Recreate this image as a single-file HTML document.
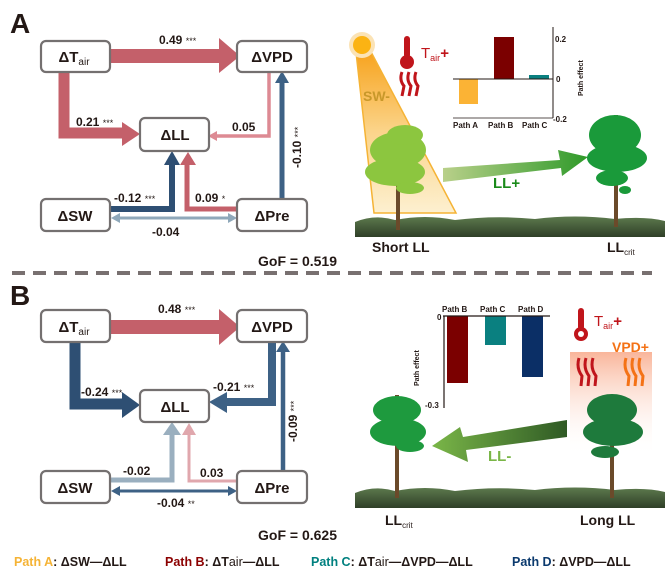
<!DOCTYPE html>
<html><head><meta charset="utf-8"><style>
body{margin:0;background:#fff}
svg{display:block;font-family:"Liberation Sans",Arial,sans-serif;font-weight:bold}
</style></head><body>
<svg width="668" height="584" viewBox="0 0 668 584" xmlns="http://www.w3.org/2000/svg">
<defs>
<linearGradient id="beam" x1="0" y1="0" x2="0" y2="1"><stop offset="0" stop-color="#f7a21b"/><stop offset="0.5" stop-color="#fbd48a"/><stop offset="1" stop-color="#fdf0d0"/></linearGradient>
<linearGradient id="ga" x1="0" y1="0" x2="1" y2="0"><stop offset="0" stop-color="#b9d08a"/><stop offset="1" stop-color="#2f9a2a"/></linearGradient>
<linearGradient id="gb" x1="1" y1="0" x2="0" y2="0"><stop offset="0" stop-color="#2f5a25"/><stop offset="1" stop-color="#7ab648"/></linearGradient>
<linearGradient id="pk" x1="0" y1="0" x2="0" y2="1"><stop offset="0" stop-color="#f9b59a"/><stop offset="1" stop-color="#fff" stop-opacity="0"/></linearGradient>
<linearGradient id="gr" x1="0" y1="0" x2="0" y2="1"><stop offset="0" stop-color="#5d7a4e"/><stop offset="1" stop-color="#2f3f27"/></linearGradient>
</defs>

<!-- ===== Panel A ===== -->
<text x="10" y="33" font-size="28" fill="#231815">A</text>
<!-- arrows A -->
<rect x="110" y="49" width="112" height="14" fill="#c4606a"/><polygon points="219,38 240,56 219,73" fill="#c4606a"/>
<path d="M64 72 V133 H126" stroke="#c4606a" stroke-width="11" fill="none"/><polygon points="122,122 140,134 122,146" fill="#c4606a"/>
<path d="M269 72 V136 H216" stroke="#dd8a93" stroke-width="3.5" fill="none"/><polygon points="217,131 208,136 217,141" fill="#dd8a93"/>
<path d="M282 199 V80" stroke="#3d6185" stroke-width="5" fill="none"/><polygon points="275,83 282,71 289,83" fill="#3d6185"/>
<path d="M110 209 H172 V163" stroke="#2e4f73" stroke-width="6" fill="none"/><polygon points="164,165 172,151 180,165" fill="#2e4f73"/>
<path d="M237 209 H187 V163" stroke="#c4606a" stroke-width="5" fill="none"/><polygon points="180,165 188,152 196,165" fill="#c4606a"/>
<line x1="118" y1="218" x2="229" y2="218" stroke="#8fa8ba" stroke-width="3"/><polygon points="120,213 111,218 120,223" fill="#8fa8ba"/><polygon points="228,213 237,218 228,223" fill="#8fa8ba"/>
<!-- boxes A -->
<g fill="#fff" stroke="#747070" stroke-width="2.2">
<rect x="41" y="41" width="69" height="31" rx="5"/><rect x="237" y="41" width="70" height="31" rx="5"/>
<rect x="140" y="118" width="69" height="33" rx="5"/><rect x="41" y="199" width="69" height="32" rx="5"/><rect x="237" y="199" width="70" height="32" rx="5"/></g>
<g font-size="15" fill="#231815" text-anchor="middle">
<text x="74" y="62">ΔT<tspan font-size="10" font-weight="normal" dy="3">air</tspan></text><text x="272" y="62">ΔVPD</text>
<text x="175" y="140">ΔLL</text><text x="75" y="221">ΔSW</text><text x="272" y="221">ΔPre</text></g>
<g font-size="12" fill="#231815">
<text x="159" y="44">0.49 <tspan font-size="9" font-weight="normal">***</tspan></text>
<text x="76" y="126">0.21 <tspan font-size="9" font-weight="normal">***</tspan></text>
<text x="232" y="131">0.05</text>
<text x="114" y="202">-0.12 <tspan font-size="9" font-weight="normal">***</tspan></text>
<text x="195" y="202">0.09 <tspan font-size="9" font-weight="normal">*</tspan></text>
<text x="152" y="236">-0.04</text>
<text transform="translate(301,168) rotate(-90)">-0.10 <tspan font-size="9" font-weight="normal">***</tspan></text>
</g>
<text x="258" y="266" font-size="14" fill="#231815">GoF =  0.519</text>
<line x1="12" y1="273" x2="652" y2="273" stroke="#787070" stroke-width="4" stroke-dasharray="13,8"/>

<!-- illustration A -->
<polygon points="356,52 370,50 456,213 374,213" fill="url(#beam)" stroke="#f5b335" stroke-width="1.5"/>
<circle cx="362" cy="45" r="13" fill="#fbe3b5"/><circle cx="362" cy="45" r="9" fill="#fbb313"/>
<text x="363" y="101" font-size="14" fill="#c8982a">SW-</text>
<g fill="#c0151b"><rect x="404" y="36" width="6" height="22" rx="3"/><circle cx="407" cy="62" r="7"/>
<path d="M402 72 q-3 8 2 14 l-2 10 M409 72 q-3 8 2 14 l-2 10 M416 72 q-3 8 2 14 l-2 10" stroke="#c0151b" stroke-width="3" fill="none"/></g>
<text x="421" y="58" font-size="15" fill="#c0151b" font-weight="normal">T<tspan font-size="9" dy="3">air</tspan><tspan dy="-3" font-weight="bold">+</tspan></text>
<!-- chart A -->
<rect x="459" y="79" width="19" height="25" fill="#fbb335"/><rect x="494" y="37" width="20" height="42" fill="#7b0000"/><rect x="529" y="75" width="20" height="4" fill="#0a8080"/>
<line x1="453" y1="79" x2="553" y2="79" stroke="#231815" stroke-width="1"/><line x1="553" y1="27" x2="553" y2="118" stroke="#231815" stroke-width="1"/>
<line x1="453" y1="118" x2="553" y2="118" stroke="#231815" stroke-width="0.8"/>
<g font-size="8" fill="#231815"><text x="555" y="42">0.2</text><text x="556" y="82">0</text><text x="553" y="122">-0.2</text>
<text x="453" y="128">Path A</text><text x="488" y="128">Path B</text><text x="522" y="128">Path C</text>
<text transform="translate(583,96) rotate(-90)" font-size="7">Path effect</text></g>
<polygon points="443,168 560,160 558,150 588,157 562,176 561,168 443,182" fill="url(#ga)"/>
<text x="493" y="188" font-size="15" fill="#1a8a1a">LL+</text>
<!-- ground A -->
<path d="M355 222 q20 -8 40 -2 q30 -6 60 0 q40 -5 80 -1 q40 -5 80 0 q30 -3 50 2 v16 H355z" fill="url(#gr)"/>
<!-- trees A -->
<rect x="396" y="130" width="4" height="100" fill="#6b4a2a"/>
<g fill="#8cc63f"><ellipse cx="398" cy="150" rx="28" ry="18"/><ellipse cx="395" cy="172" rx="30" ry="14"/><ellipse cx="405" cy="135" rx="18" ry="10"/><ellipse cx="410" cy="188" rx="14" ry="6"/></g>
<rect x="614" y="115" width="4" height="112" fill="#6b4a2a"/>
<g fill="#1a9a3a"><ellipse cx="615" cy="135" rx="26" ry="20"/><ellipse cx="617" cy="158" rx="30" ry="14"/><ellipse cx="612" cy="178" rx="16" ry="8"/><ellipse cx="625" cy="190" rx="6" ry="4"/></g>
<text x="372" y="252" font-size="14" fill="#231815">Short LL</text>
<text x="607" y="252" font-size="14" fill="#231815">LL<tspan font-size="8" font-weight="normal" dy="3">crit</tspan></text>

<!-- ===== Panel B ===== -->
<text x="10" y="305" font-size="28" fill="#231815">B</text>
<rect x="110" y="320" width="112" height="14" fill="#c4606a"/><polygon points="219,309 240,327 219,345" fill="#c4606a"/>
<path d="M75 342 V404 H126" stroke="#2e4f73" stroke-width="11" fill="none"/><polygon points="122,392 140,405 122,418" fill="#2e4f73"/>
<path d="M272 342 V402 H226" stroke="#3d6185" stroke-width="8" fill="none"/><polygon points="227,392 209,402 227,413" fill="#3d6185"/>
<path d="M283 471 V350" stroke="#3d6185" stroke-width="4.5" fill="none"/><polygon points="276,352 283,341 290,352" fill="#3d6185"/>
<path d="M110 480 H172 V433" stroke="#9aafbf" stroke-width="5" fill="none"/><polygon points="163,435 172,422 181,435" fill="#9aafbf"/>
<path d="M237 481 H189 V433" stroke="#e0a7ad" stroke-width="3" fill="none"/><polygon points="182,435 189,423 196,435" fill="#e0a7ad"/>
<line x1="118" y1="491" x2="229" y2="491" stroke="#3d6185" stroke-width="3"/><polygon points="120,486 111,491 120,496" fill="#3d6185"/><polygon points="228,486 237,491 228,496" fill="#3d6185"/>
<g fill="#fff" stroke="#747070" stroke-width="2.2">
<rect x="41" y="310" width="69" height="32" rx="5"/><rect x="237" y="310" width="70" height="32" rx="5"/>
<rect x="140" y="390" width="69" height="32" rx="5"/><rect x="41" y="471" width="69" height="32" rx="5"/><rect x="237" y="471" width="70" height="32" rx="5"/></g>
<g font-size="15" fill="#231815" text-anchor="middle">
<text x="74" y="332">ΔT<tspan font-size="10" font-weight="normal" dy="3">air</tspan></text><text x="272" y="332">ΔVPD</text>
<text x="175" y="412">ΔLL</text><text x="75" y="493">ΔSW</text><text x="272" y="493">ΔPre</text></g>
<g font-size="12" fill="#231815">
<text x="158" y="313">0.48 <tspan font-size="9" font-weight="normal">***</tspan></text>
<text x="81" y="396">-0.24 <tspan font-size="9" font-weight="normal">***</tspan></text>
<text x="213" y="391">-0.21 <tspan font-size="9" font-weight="normal">***</tspan></text>
<text x="123" y="475">-0.02</text>
<text x="200" y="477">0.03</text>
<text x="157" y="507">-0.04 <tspan font-size="9" font-weight="normal">**</tspan></text>
<text transform="translate(297,442) rotate(-90)">-0.09 <tspan font-size="9" font-weight="normal">***</tspan></text>
</g>
<text x="258" y="540" font-size="14" fill="#231815">GoF =  0.625</text>

<!-- illustration B -->
<rect x="570" y="352" width="82" height="105" fill="url(#pk)"/>
<g fill="#c0151b"><rect x="578" y="308" width="6" height="22" rx="3"/><circle cx="581" cy="334" r="7"/></g>
<circle cx="581" cy="334" r="3" fill="#fff"/>
<text x="594" y="326" font-size="15" fill="#c0151b" font-weight="normal">T<tspan font-size="9" dy="3">air</tspan><tspan dy="-3" font-weight="bold">+</tspan></text>
<text x="612" y="352" font-size="14" fill="#f47216">VPD+</text>
<g fill="none" stroke-width="3">
<path d="M579 358 q-3 10 3 18 l-1 10 M586 358 q-3 10 3 18 l-1 10 M593 358 q-3 10 3 18 l-1 10" stroke="#c0151b"/>
<path d="M626 358 q-3 10 3 18 l-1 10 M633 358 q-3 10 3 18 l-1 10 M640 358 q-3 10 3 18 l-1 10" stroke="#f47216"/></g>
<!-- chart B -->
<rect x="447" y="316" width="21" height="67" fill="#7b0000"/><rect x="485" y="316" width="21" height="29" fill="#0a8080"/><rect x="522" y="316" width="21" height="61" fill="#0b2f66"/>
<line x1="443" y1="316" x2="550" y2="316" stroke="#231815" stroke-width="1.2"/><line x1="444" y1="316" x2="444" y2="408" stroke="#231815" stroke-width="1.2"/>
<g font-size="8" fill="#231815"><text x="442" y="312">Path B</text><text x="480" y="312">Path C</text><text x="518" y="312">Path D</text>
<text x="437" y="320">0</text><text x="425" y="408">-0.3</text>
<text transform="translate(419,386) rotate(-90)" font-size="7">Path effect</text></g>
<polygon points="567,420 567,437 466,450 468,462 432,446 460,427 463,437" fill="url(#gb)"/>
<text x="488" y="461" font-size="15" fill="#7ab648">LL-</text>
<path d="M355 493 q20 -8 40 -2 q30 -6 60 0 q40 -5 80 -1 q40 -5 80 0 q30 -3 50 2 v16 H355z" fill="url(#gr)"/>
<rect x="395" y="395" width="4" height="103" fill="#6b4a2a"/>
<g fill="#1e9a3e"><ellipse cx="397" cy="410" rx="24" ry="14"/><ellipse cx="398" cy="432" rx="28" ry="14"/><ellipse cx="410" cy="446" rx="14" ry="6"/></g>
<rect x="610" y="395" width="4" height="103" fill="#6b4a2a"/>
<g fill="#1e7a3c"><ellipse cx="612" cy="410" rx="25" ry="16"/><ellipse cx="613" cy="432" rx="30" ry="14"/><ellipse cx="605" cy="452" rx="14" ry="6"/></g>
<text x="385" y="525" font-size="14" fill="#231815">LL<tspan font-size="8" font-weight="normal" dy="3">crit</tspan></text>
<text x="580" y="525" font-size="14" fill="#231815">Long LL</text>

<!-- legend -->
<g font-size="12.5">
<text x="14" y="566"><tspan fill="#f5b335">Path A</tspan><tspan fill="#231815">: ΔSW—ΔLL</tspan></text>
<text x="165" y="566"><tspan fill="#8b0000">Path B</tspan><tspan fill="#231815">: ΔT<tspan font-weight="normal">air</tspan>—ΔLL</tspan></text>
<text x="311" y="566"><tspan fill="#00807f">Path C</tspan><tspan fill="#231815">: ΔT<tspan font-weight="normal">air</tspan>—ΔVPD—ΔLL</tspan></text>
<text x="512" y="566"><tspan fill="#0b3a6e">Path D</tspan><tspan fill="#231815">: ΔVPD—ΔLL</tspan></text>
</g>
</svg>
</body></html>
